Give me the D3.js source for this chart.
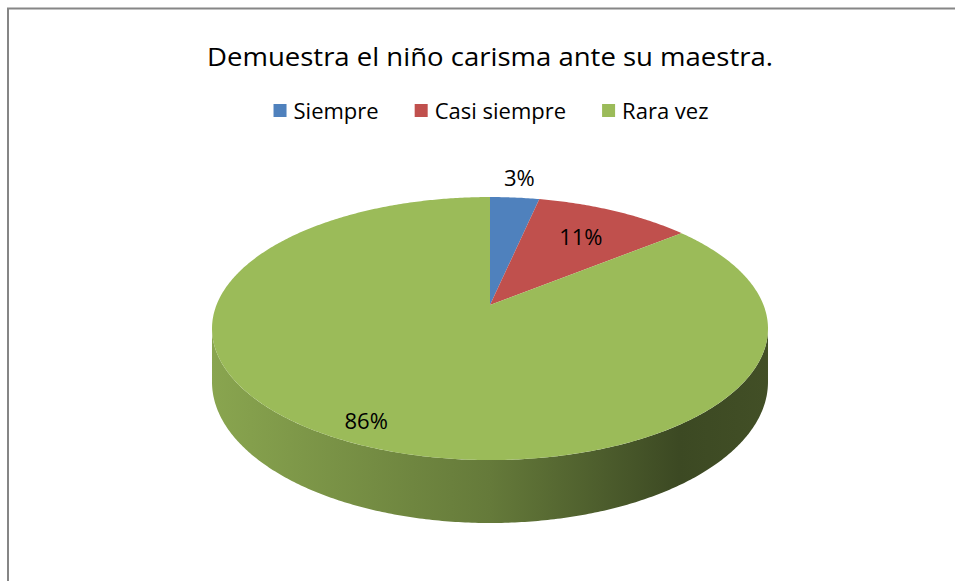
<!DOCTYPE html>
<html>
<head>
<meta charset="utf-8">
<script src="https://cdn.jsdelivr.net/npm/d3@7"></script>
<style>
  body { margin: 0; background: #fff; }
  svg { display: block; font-family: "Open Sans", "Noto Sans", sans-serif; }
</style>
</head>
<body>
<svg id="chart" width="955" height="581" viewBox="0 0 955 581"></svg>
<script>
// chart data
const categories = ["Siempre", "Casi siempre", "Rara vez"]
const values = [3.4, 10.8, 85.8]
const colors = ["#4F81BD", "#C0504D", "#9BBB59"]
const title = "Demuestra el niño carisma ante su maestra."

const svg = d3.select("#chart")

// frame (cut off at right / bottom like the original)
svg.append("path")
    .attr("d", "M8,581 V8.5 H955")
    .attr("fill", "none")
    .attr("stroke", "#868686")
    .attr("stroke-width", 2)

// title
svg.append("text")
    .attr("x", 490)
    .attr("y", 66)
    .attr("text-anchor", "middle")
    .attr("font-size", 25)
    .attr("fill", "#000")
    .attr("textLength", 566)
    .attr("lengthAdjust", "spacingAndGlyphs")
    .text(title)

// legend, laid out from measured text widths
const legend = svg.append("g")
const items = legend.selectAll("g")
    .data(categories)
    .enter()
    .append("g")
items.append("rect")
    .attr("width", 13).attr("height", 13)
    .attr("y", 104)
    .attr("fill", (d, i) => colors[i])
items.append("text")
    .attr("x", 20)
    .attr("y", 119)
    .attr("font-size", 22)
    .attr("fill", "#000")
    .text(d => d)
let xpos = 0
items.each(function () {
    const w = d3.select(this).select("text").node().getComputedTextLength()
    d3.select(this).attr("transform", `translate(${xpos},0)`)
    xpos += 20 + w + 36
})
xpos -= 36
legend.attr("transform", `translate(${265 + (452 - xpos) / 2},0)`)

// 3D pie projection (perspective ellipse)
const cx = 490, cy = 305
const kR = 273.5, ksR = 127.3, q = 0.179, H = 51.7
function proj(theta, r = 1, h = 0) {
    const den = 1 + q * r * Math.cos(theta)
    return [
        cx + kR * r * Math.sin(theta) / den,
        cy - ksR * r * Math.cos(theta) / den + h * H / (1 + q * Math.cos(theta))
    ]
}

const pie = d3.pie().sort(null).value(d => d)
const arcs = pie(values)
arcs.forEach((a, i) => { a.color = colors[i]; a.name = categories[i] })

// find the visible part of the side (between left and right extremes)
let thR = 0, thL = 0, maxX = -1e9, minX = 1e9
for (let t = 0; t <= 2 * Math.PI; t += 0.001) {
    const [x] = proj(t)
    if (x > maxX) { maxX = x; thR = t }
    if (x < minX) { minX = x; thL = t }
}

// side shading: lit from the left, darkest towards the right
const defs = svg.append("defs")
arcs.forEach((a, i) => {
    const c = d3.color(a.color)
    const g = defs.append("linearGradient")
        .attr("id", "side" + i)
        .attr("gradientUnits", "userSpaceOnUse")
        .attr("x1", minX).attr("x2", maxX)
        .attr("y1", 0).attr("y2", 0)
    g.append("stop").attr("offset", "0%").attr("stop-color", c.darker(0.35))
    g.append("stop").attr("offset", "50%").attr("stop-color", c.darker(1.2))
    g.append("stop").attr("offset", "84%").attr("stop-color", c.darker(2.65))
    g.append("stop").attr("offset", "100%").attr("stop-color", c.darker(2.4))
})

function rim(t0, t1, h) {
    const pts = []
    const n = Math.max(2, Math.ceil(Math.abs(t1 - t0) / 0.01))
    for (let k = 0; k <= n; k++) pts.push(proj(t0 + (t1 - t0) * k / n, 1, h))
    return pts
}

const pie3d = svg.append("g")

// side walls
arcs.forEach((a, i) => {
    const s = Math.max(a.startAngle, thR), e = Math.min(a.endAngle, thL)
    if (e <= s) return
    const pts = rim(s, e, 0).concat(rim(e, s, 1))
    pie3d.append("path")
        .attr("d", d3.line()(pts) + "Z")
        .attr("fill", `url(#side${i})`)
})

// top faces
pie3d.selectAll(".top")
    .data(arcs)
    .enter()
    .append("path")
    .attr("class", "top")
    .attr("d", d => d3.line()([[cx, cy]].concat(rim(d.startAngle, d.endAngle, 0))) + "Z")
    .attr("fill", d => d.color)

// data labels
const labelR = [1.23, 0.7, 0.86]
const fmt = d3.format(".0%")
svg.selectAll(".lbl")
    .data(arcs)
    .enter()
    .append("text")
    .attr("class", "lbl")
    .attr("text-anchor", "middle")
    .attr("dominant-baseline", "central")
    .attr("font-size", 22)
    .attr("fill", "#000")
    .attr("x", (d, i) => proj((d.startAngle + d.endAngle) / 2, labelR[i])[0] - (i === 2 ? 6 : 0))
    .attr("y", (d, i) => proj((d.startAngle + d.endAngle) / 2, labelR[i])[1])
    .text(d => fmt(d.data / 100))
</script>
</body>
</html>
